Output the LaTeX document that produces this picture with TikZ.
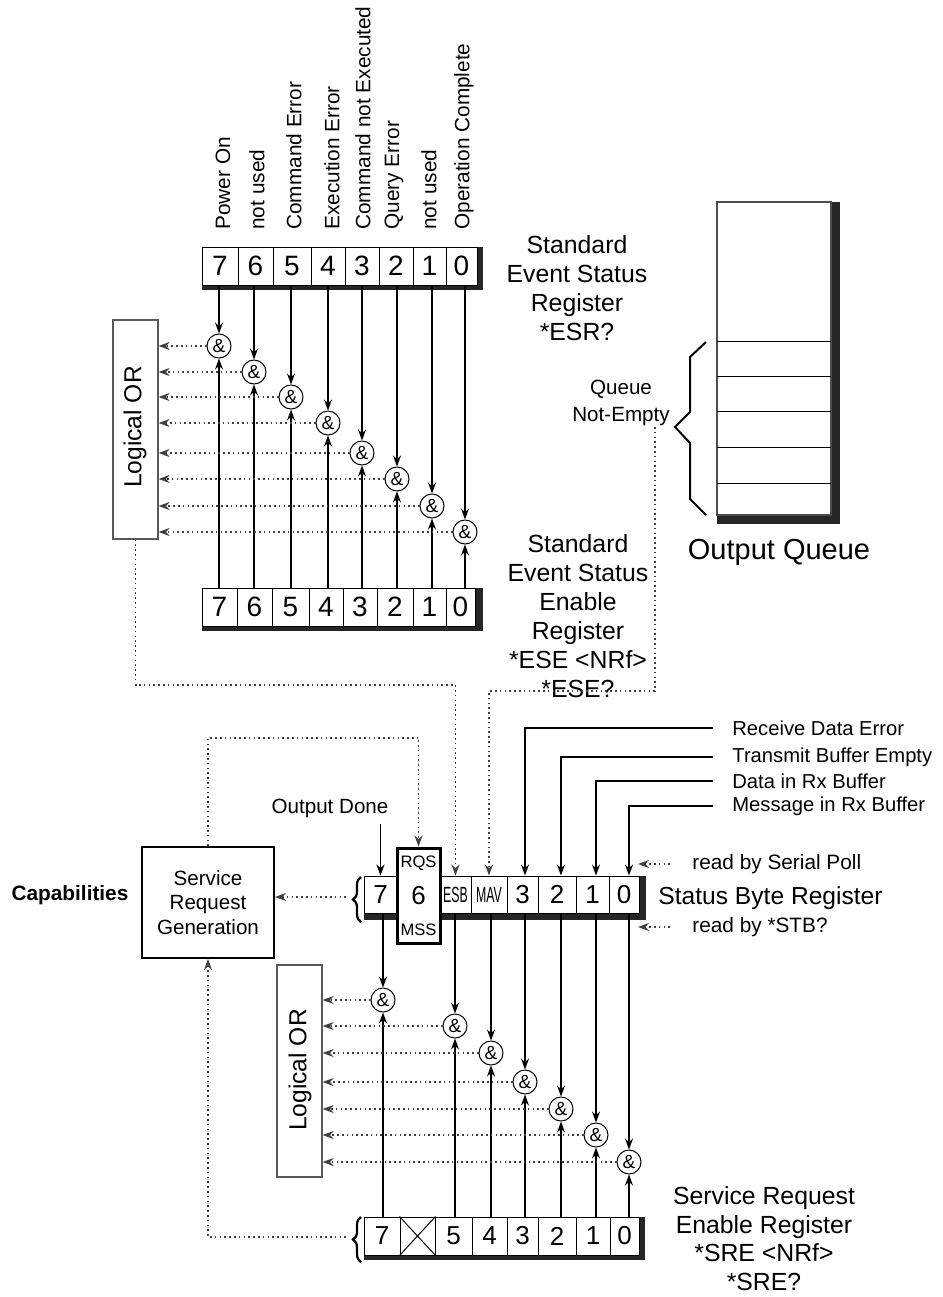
\documentclass[tikz,border=0pt]{standalone}
\usepackage{fontspec}
\setmainfont{Liberation Sans}
\usetikzlibrary{arrows.meta,positioning,decorations.pathreplacing}
\newcommand{\fsz}[2]{\fontsize{#1}{#2}\selectfont}
\newcommand{\narrowtext}[1]{{\fsz{11}{11}\scalebox{0.56}[1]{#1}}}

\begin{document}
\begin{tikzpicture}[x=0.5pt,y=-0.5pt,
    cell/.style={rectangle,draw,fill=white,inner sep=0pt,line width=0.5pt,
                 minimum height=19pt,font=\fsz{14}{14}},
    lcell/.style={cell,font=\fsz{13}{13}},
    gate/.style={circle,draw,fill=white,minimum size=12pt,inner sep=0pt,
                 line width=0.5pt,font=\fsz{9.5}{9.5}},
    orbox/.style={rectangle,draw=black!65,line width=0.6pt,minimum width=22.5pt},
    ortext/.style={rotate=90,font=\fsz{12.3}{12.3}},
    bitlabel/.style={rotate=90,anchor=west,inner sep=0pt,font=\fsz{10.4}{10.4}},
    reglabel/.style={align=center,font=\fsz{12.4}{14.5}},
    inlabel/.style={anchor=west,inner ysep=0pt,inner xsep=9.5pt,font=\fsz{10.1}{10.1}},
    readlabel/.style={anchor=west,inner ysep=0pt,inner xsep=11pt,font=\fsz{10.4}{10.4}},
    sig/.style={-{Stealth[length=5.5pt,width=4pt]},line width=0.55pt},
    dots/.style={line width=0.8pt,dash pattern=on 0.8pt off 1.6pt,black!75},
    darr/.style={dots,-{Stealth[length=5.5pt,width=4pt]}},
    shadow/.style={fill=black!85},
  ]
  \useasboundingbox (0,0) rectangle (943,1297);

  % Standard Event Status Register
  \fill[shadow] (202,285) rectangle (483,290);
  \fill[shadow] (477,247) rectangle (483,290);
  \foreach \n/\l/\r in {7/202/238,6/238/273,5/273/311,4/311/345,3/345/379,2/379/413,1/413/446,0/446/477}
    \node[cell,minimum width={(\r-\l)*0.5pt}] (esr\n) at ({(\l+\r)/2},266) {\n};
  \foreach \t/\x [count=\i] in {Power On/223,not used/257,Command Error/294,Execution Error/332,
      Command not Executed/363,Query Error/394,not used/429,Operation Complete/464}
    \node[bitlabel] (esrlbl\i) at (\x,230) {\t};
  \node[reglabel] (esrtxt) at (577,288) {Standard\\Event Status\\Register\\*ESR?};

  % Standard Event Status Enable Register
  \fill[shadow] (202,626) rectangle (483,631);
  \fill[shadow] (475,588) rectangle (483,631);
  \foreach \n/\l/\r in {7/202/237,6/237/272,5/272/309,4/309/343,3/343/377,2/377/413,1/413/446,0/446/475}
    \node[cell,minimum width={(\r-\l)*0.5pt}] (ese\n) at ({(\l+\r)/2},607) {\n};
  \node[reglabel] (esetxt) at (578,616) {Standard\\Event Status\\Enable\\Register\\*ESE <NRf>\\*ESE?};

  \node[orbox,minimum height=109.5pt] (orE) at (135.5,429.5) {};
  \node[ortext] (orEtxt) at (135,427) {Logical OR};
  \foreach \n/\x/\y in {7/219/346,6/254/372,5/291/397,4/328/423,3/362/453,2/397/479,1/432/506,0/465/532} {
    \node[gate] (gE\n) at (\x,\y) {\&};
    \draw[sig] (gE\n.north |- esr\n.south) -- (gE\n.north);
    \draw[sig] (gE\n.south |- ese\n.north) -- (gE\n.south);
    \draw[darr] (gE\n.west) -- (gE\n.west -| orE.east);
  }

  % Output Queue
  \fill[shadow] (831,202) rectangle (840,524);
  \fill[shadow] (717,515) rectangle (840,524);
  \node[draw=black!70,line width=0.6pt,inner sep=0pt,minimum width=57pt,minimum height=156.5pt]
    (oq) at (774,358.5) {};
  \foreach \y in {341,376,411,447,483}
    \draw[line width=0.5pt] (717,\y) -- (831,\y);
  \draw[line width=1pt] (706,342) -- (690,357) -- (690,412) -- (675,427)
    -- (690,443) -- (690,499) -- (706,515);
  \node[font=\fsz{14.5}{14.5}] (oqtxt) at (779,552) {Output Queue};
  \node[align=center,font=\fsz{10.3}{13.3}] (qne) at (621,403) {Queue\\Not-Empty};
  \coordinate (qneOut) at (655,427);
  \coordinate (qneTurn) at (655,691);

  % Status Byte Register
  \fill[shadow] (364,913) rectangle (646,920);
  \fill[shadow] (639,876) rectangle (646,920);
  \foreach \n/\l/\r/\t in {7/364/397/7,5/440/471/\narrowtext{ESB},4/471/507/\narrowtext{MAV},
      3/507/538/3,2/538/576/2,1/576/609/1,0/609/639/0}
    \node[lcell,minimum width={(\r-\l)*0.5pt},minimum height=18.5pt] (sb\n) at ({(\l+\r)/2},894.5) {\t};
  \node[lcell,line width=1.5pt,minimum width=21.5pt,minimum height=47.5pt] (sb6) at (418.5,895.5) {6};
  \node[font=\fsz{8.3}{8.3}] (rqs) at (418.5,863) {RQS};
  \node[font=\fsz{8.3}{8.3}] (mss) at (418.5,930) {MSS};
  \draw[decorate,decoration={brace,amplitude=4pt},line width=1.1pt] (361,922) -- (361,877);
  \coordinate (sbTip) at (346,897);
  \node[anchor=west,inner sep=0pt,font=\fsz{12.3}{12.3}] (sbtxt) at (658,898) {Status Byte Register};

  \node[inlabel] (rde) at (713,728) {Receive Data Error};
  \node[inlabel] (tbe) at (713,757) {Transmit Buffer Empty};
  \node[inlabel] (drx) at (713,781) {Data in Rx Buffer};
  \node[inlabel] (mrx) at (713,806) {Message in Rx Buffer};
  \node[readlabel] (rsp) at (670,864) {read by Serial Poll};
  \node[readlabel] (rstb) at (670,927) {read by *STB?};
  \coordinate (rspEnd) at (638,864);
  \coordinate (rstbEnd) at (638,927);
  \draw[darr] (rsp.west) -- (rspEnd);
  \draw[darr] (rstb.west) -- (rstbEnd);

  \node[font=\fsz{10.3}{10.3}] (od) at (330,808) {Output Done};
  \draw[sig] (sb7.north |- od.south) -- (sb7.north);

  % Service Request Generation
  \node[draw,line width=1pt,minimum width=66pt,minimum height=55.5pt,align=center,
        font=\fsz{10.3}{12.3}] (srg) at (208,902.5) {Service\\Request\\Generation};
  \node[font=\bfseries\fsz{10.4}{10.4}] (cap) at (70,895) {Capabilities};
  \coordinate (rqsTurn) at (419,738);
  \draw[darr] (srg.north) |- (rqsTurn) -| (sb6.north);
  \draw[darr] (sbTip) -- (sbTip -| srg.east);

  % Service Request Enable Register
  \fill[shadow] (364,1255) rectangle (645,1260);
  \fill[shadow] (639,1217) rectangle (645,1260);
  \foreach \n/\l/\r/\t in {7/364/400/7,6/400/435/{},5/435/472/5,4/472/507/4,
      3/507/538/3,2/538/576/2,1/576/610/1,0/610/639/0}
    \node[lcell,minimum width={(\r-\l)*0.5pt}] (sre\n) at ({(\l+\r)/2},1236) {\t};
  \draw[line width=0.5pt] (sre6.north west) -- (sre6.south east)
    (sre6.south west) -- (sre6.north east);
  \draw[decorate,decoration={brace,amplitude=4pt},line width=1.1pt] (361,1262) -- (361,1217);
  \coordinate (sreTip) at (346,1237);
  \node[reglabel,font=\fsz{12.4}{14.25}] (sretxt) at (764,1238.5)
    {Service Request\\Enable Register\\*SRE <NRf>\\*SRE?};
  \draw[darr] (sreTip) -| (srg.south);

  \node[orbox,minimum height=106pt] (orS) at (299.5,1071) {};
  \node[ortext] (orStxt) at (300,1070) {Logical OR};
  \foreach \n/\x/\y in {7/383/1000,5/455/1026,4/491/1053,3/525/1082,2/561/1109,1/596/1135,0/629/1162} {
    \node[gate] (gS\n) at (\x,\y) {\&};
    \draw[sig] (gS\n.north |- sb\n.south) -- (gS\n.north);
    \draw[sig] (gS\n.south |- sre\n.north) -- (gS\n.south);
    \draw[darr] (gS\n.west) -- (gS\n.west -| orS.east);
  }

  % summary inputs of the status byte
  \draw[sig] (rde.west) -| (gS3.north |- sb3.north);
  \draw[sig] (tbe.west) -| (gS2.north |- sb2.north);
  \draw[sig] (drx.west) -| (gS1.north |- sb1.north);
  \draw[sig] (mrx.west) -| (gS0.north |- sb0.north);
  \coordinate (esbTurn) at (455,685);
  \draw[darr] (orE.south) |- (esbTurn) -| (sb5.north);
  \draw[darr] (qneOut) -- (qneTurn) -| (sb4.north);
\end{tikzpicture}
\end{document}
